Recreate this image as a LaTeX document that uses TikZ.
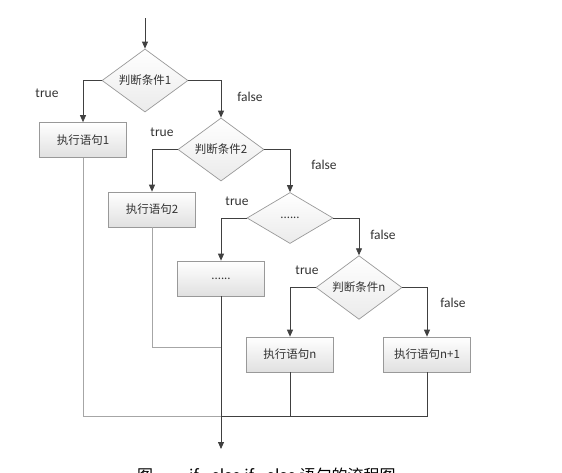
\documentclass[tikz,border=0pt]{standalone}
\usepackage{fontspec}
\setmainfont{Carlito}
\newfontfamily\cjk{Noto Sans CJK SC}
\usetikzlibrary{arrows.meta,shapes.geometric}

\begin{document}
\begin{tikzpicture}[
  x=1pt,
  y=-1pt,
  every node/.style={text=black!80},
  cond/.style={diamond, draw=gray!80, line width=0.7pt, top color=white, bottom color=gray!16, inner sep=0pt, minimum width=86pt, minimum height=51pt, font=\cjk\fontsize{11.5}{13}\selectfont},
  stmt/.style={rectangle, draw=gray!80, line width=0.7pt, top color=white, bottom color=gray!24, minimum width=87pt, minimum height=35pt, font=\cjk\fontsize{11.5}{13}\selectfont},
  lbl/.style={font=\fontsize{13.5}{16}\selectfont},
  flow/.style={draw=black!75, line width=0.8pt},
  arr/.style={flow, -{Triangle[length=7pt, width=6pt]}},
  back/.style={draw=gray!70, line width=0.8pt},
]

% Page.
\useasboundingbox (0,0) rectangle (562,472);
\clip (0,0) rectangle (562,472);

% Conditions.
\node[cond] (cond1) at (145,80.5) {判断条件1};
\node[cond] (cond2) at (221,149.5) {判断条件2};
\node[cond] (cond3) at (290,218) {......};
\node[cond] (condn) at (359,287.5) {判断条件n};

% Statements.
\node[stmt] (stmt1) at (83,140) {执行语句1};
\node[stmt] (stmt2) at (152,209.5) {执行语句2};
\node[stmt] (stmt3) at (221,278.5) {......};
\node[stmt] (stmtn) at (290,354.5) {执行语句n};
\node[stmt] (stmtn1) at (427,354.5) {执行语句n+1};

% Branch labels.
\node[lbl] (true1) at (47,93) {true};
\node[lbl] (false1) at (250,97) {false};
\node[lbl] (true2) at (162,132) {true};
\node[lbl] (false2) at (324,165) {false};
\node[lbl] (true3) at (237,201) {true};
\node[lbl] (false3) at (383,235) {false};
\node[lbl] (truen) at (307,270) {true};
\node[lbl] (falsen) at (453,303) {false};

% Branches.
\coordinate (entry) at (145,18);
\draw[arr] (entry) -- (cond1.north);
\draw[arr] (cond1.west) -| (stmt1.north);
\draw[arr] (cond1.east) -| (cond2.north);
\draw[arr] (cond2.west) -| (stmt2.north);
\draw[arr] (cond2.east) -| (cond3.north);
\draw[arr] (cond3.west) -| (stmt3.north);
\draw[arr] (cond3.east) -| (condn.north);
\draw[arr] (condn.west) -| (stmtn.north);
\draw[arr] (condn.east) -| (stmtn1.north);

% Merge.
\coordinate (join2) at (221,347);
\coordinate (merge) at (221,416);
\coordinate (exit) at (221,449);
\draw[back] (stmt1.south) |- (merge);
\draw[back] (stmt2.south) |- (join2);
\draw[arr] (stmt3.south) -- (exit);
\draw[flow] (stmtn.south) -- (stmtn.south |- merge);
\draw[flow] (stmtn1.south) |- (merge);

% Caption, cut off by the page edge.
\node[font=\cjk\fontsize{16}{18}\selectfont, text=black, anchor=base west, inner sep=0pt] (caption) at (137,481) {图\hspace{36pt}if...else if...else 语句的流程图};

\end{tikzpicture}
\end{document}
